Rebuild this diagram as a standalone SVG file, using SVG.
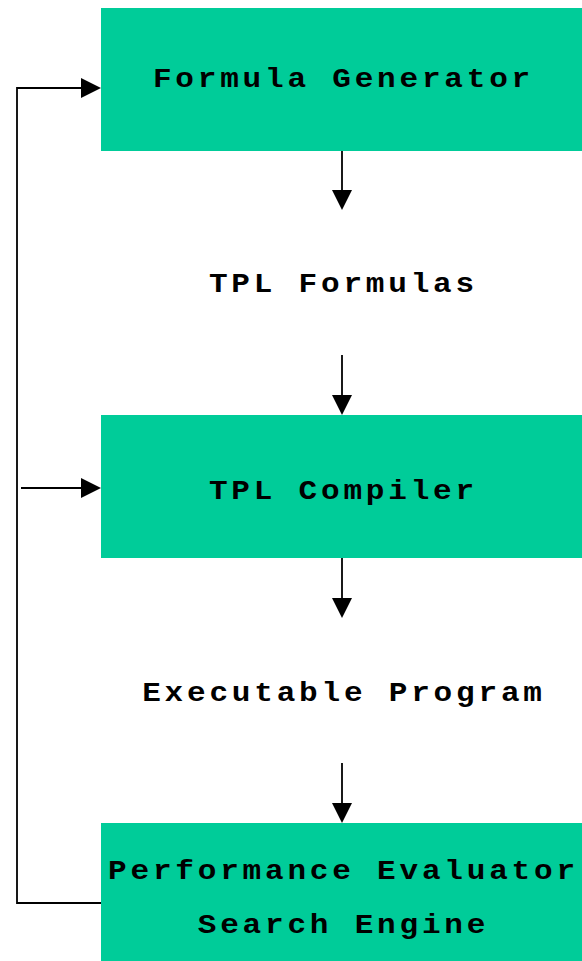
<svg xmlns="http://www.w3.org/2000/svg" width="582" height="961" viewBox="0 0 582 961">
  <style>
    .box { fill: #00cc99; }
    .lbl { font-family: "Courier New", "Liberation Mono", monospace; font-weight: bold; font-size: 27px; letter-spacing: 3.3px; fill: #000; text-anchor: middle; }
    .wire { fill: none; stroke: #000; stroke-width: 1.8; }
    .head { fill: #000; }
  </style>
  <rect width="582" height="961" fill="#fff"/>

  <g id="formula-generator">
    <rect class="box" x="101" y="8" width="481" height="143"/>
    <text class="lbl" transform="translate(341.5,87) scale(1.15,1)" x="1.7" y="0">Formula Generator</text>
  </g>

  <g id="tpl-formulas">
    <text class="lbl" transform="translate(341.5,292) scale(1.15,1)" x="1.7" y="0">TPL Formulas</text>
  </g>

  <g id="tpl-compiler">
    <rect class="box" x="101" y="415" width="481" height="143"/>
    <text class="lbl" transform="translate(341.5,499) scale(1.15,1)" x="1.7" y="0">TPL Compiler</text>
  </g>

  <g id="executable-program">
    <text class="lbl" transform="translate(342,701) scale(1.15,1)" x="1.7" y="0">Executable Program</text>
  </g>

  <g id="performance-evaluator">
    <rect class="box" x="101" y="823" width="481" height="138"/>
    <text class="lbl" transform="translate(341.5,879) scale(1.15,1)" x="1.7" y="0">Performance Evaluator</text>
    <text class="lbl" transform="translate(341.5,933) scale(1.15,1)" x="1.7" y="0">Search Engine</text>
  </g>

  <g id="connectors">
    <!-- downward flow -->
    <line class="wire" x1="342" y1="151" x2="342" y2="192"/>
    <polygon class="head" points="332,190 352,190 342,210"/>
    <line class="wire" x1="342" y1="355" x2="342" y2="397"/>
    <polygon class="head" points="332,395 352,395 342,415"/>
    <line class="wire" x1="342" y1="558" x2="342" y2="600"/>
    <polygon class="head" points="332,598 352,598 342,618"/>
    <line class="wire" x1="342" y1="763" x2="342" y2="805"/>
    <polygon class="head" points="332,803 352,803 342,823"/>
    <!-- feedback loop -->
    <polyline class="wire" points="101,903 17,903 17,88 83,88"/>
    <polygon class="head" points="81,78 101,88 81,98"/>
    <line class="wire" x1="21" y1="488" x2="83" y2="488"/>
    <polygon class="head" points="81,478 101,488 81,498"/>
  </g>
</svg>
